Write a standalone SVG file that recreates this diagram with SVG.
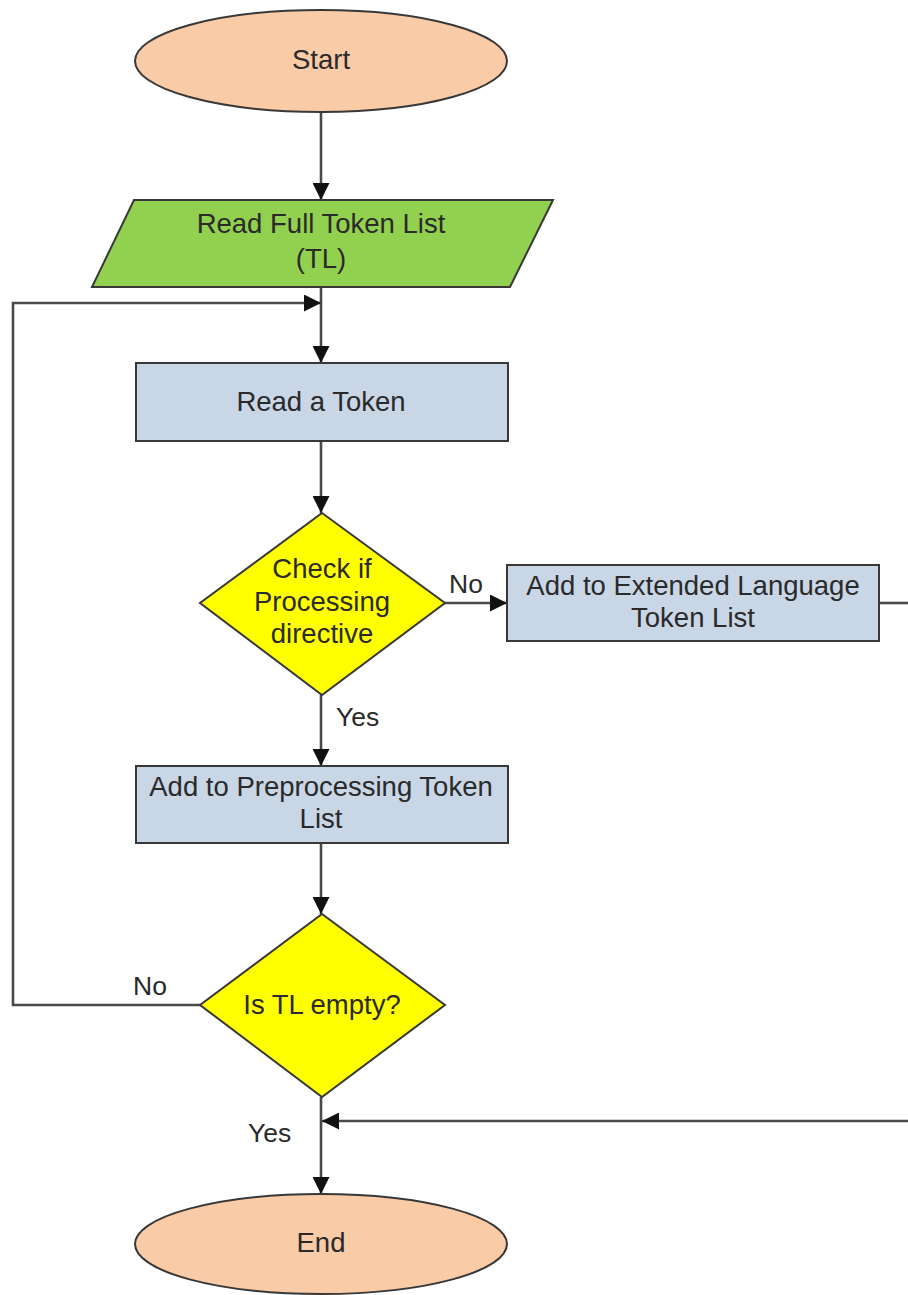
<svg xmlns="http://www.w3.org/2000/svg" width="908" height="1295" viewBox="0 0 908 1295">
  <style>
    .shape { stroke: #383838; stroke-width: 2; }
    .term { fill: #F9CBA7; }
    .io { fill: #92D050; }
    .proc { fill: #C9D6E6; }
    .dec { fill: #FFFF00; }
    .lbl { font-family: "Liberation Sans", Arial, sans-serif; font-size: 27.5px; fill: #2a2a2a; text-anchor: middle; }
    .edge-lbl { font-family: "Liberation Sans", Arial, sans-serif; font-size: 26.5px; fill: #2a2a2a; }
    .conn { fill: none; stroke: #4a4a4a; stroke-width: 2.6; }
  </style>
  <defs>
    <marker id="arrow" viewBox="0 0 17 17" refX="17" refY="8.5" markerWidth="17" markerHeight="17" markerUnits="userSpaceOnUse" orient="auto">
      <path d="M0,0 L17,8.5 L0,17 Z" fill="#111"/>
    </marker>
  </defs>

  <!-- connectors -->
  <g id="connectors">
    <path class="conn" d="M321,112 L321,200" marker-end="url(#arrow)"/>
    <path class="conn" d="M321,287 L321,363" marker-end="url(#arrow)"/>
    <path class="conn" d="M321,441 L321,513" marker-end="url(#arrow)"/>
    <path class="conn" d="M445,603 L507,603" marker-end="url(#arrow)"/>
    <path class="conn" d="M879,603 L910,603"/>
    <path class="conn" d="M321,695 L321,766" marker-end="url(#arrow)"/>
    <path class="conn" d="M321,843 L321,914" marker-end="url(#arrow)"/>
    <path class="conn" d="M200,1005 L13,1005 L13,303 L321,303" marker-end="url(#arrow)"/>
    <path class="conn" d="M321,1097 L321,1194" marker-end="url(#arrow)"/>
    <path class="conn" d="M910,1121 L322,1121" marker-end="url(#arrow)"/>
    <text class="edge-lbl" x="449" y="593">No</text>
    <text class="edge-lbl" x="336" y="726">Yes</text>
    <text class="edge-lbl" x="133" y="995">No</text>
    <text class="edge-lbl" x="248" y="1142">Yes</text>
  </g>

  <g id="start">
    <ellipse class="shape term" cx="321" cy="61" rx="186" ry="51"/>
    <text class="lbl" x="321" y="69">Start</text>
  </g>

  <g id="read-full-list">
    <polygon class="shape io" points="134,200 553,200 510,287 92,287"/>
    <text class="lbl" x="321" y="233">Read Full Token List</text>
    <text class="lbl" x="321" y="268">(TL)</text>
  </g>

  <g id="read-token">
    <rect class="shape proc" x="136" y="363" width="372" height="78"/>
    <text class="lbl" x="321" y="411">Read a Token</text>
  </g>

  <g id="check-directive">
    <polygon class="shape dec" points="322,513 445,603 322,695 200,603"/>
    <text class="lbl" x="322" y="578">Check if</text>
    <text class="lbl" x="322" y="611">Processing</text>
    <text class="lbl" x="322" y="643">directive</text>
  </g>

  <g id="extended-list">
    <rect class="shape proc" x="507" y="565" width="372" height="76"/>
    <text class="lbl" x="693" y="595">Add to Extended Language</text>
    <text class="lbl" x="693" y="627">Token List</text>
  </g>

  <g id="preprocessing-list">
    <rect class="shape proc" x="136" y="766" width="372" height="77"/>
    <text class="lbl" x="321" y="796">Add to Preprocessing Token</text>
    <text class="lbl" x="321" y="828">List</text>
  </g>

  <g id="tl-empty">
    <polygon class="shape dec" points="322,914 445,1005 322,1097 200,1005"/>
    <text class="lbl" x="322" y="1014">Is TL empty?</text>
  </g>

  <g id="end">
    <ellipse class="shape term" cx="321" cy="1244" rx="186" ry="50"/>
    <text class="lbl" x="321" y="1252">End</text>
  </g>
</svg>
